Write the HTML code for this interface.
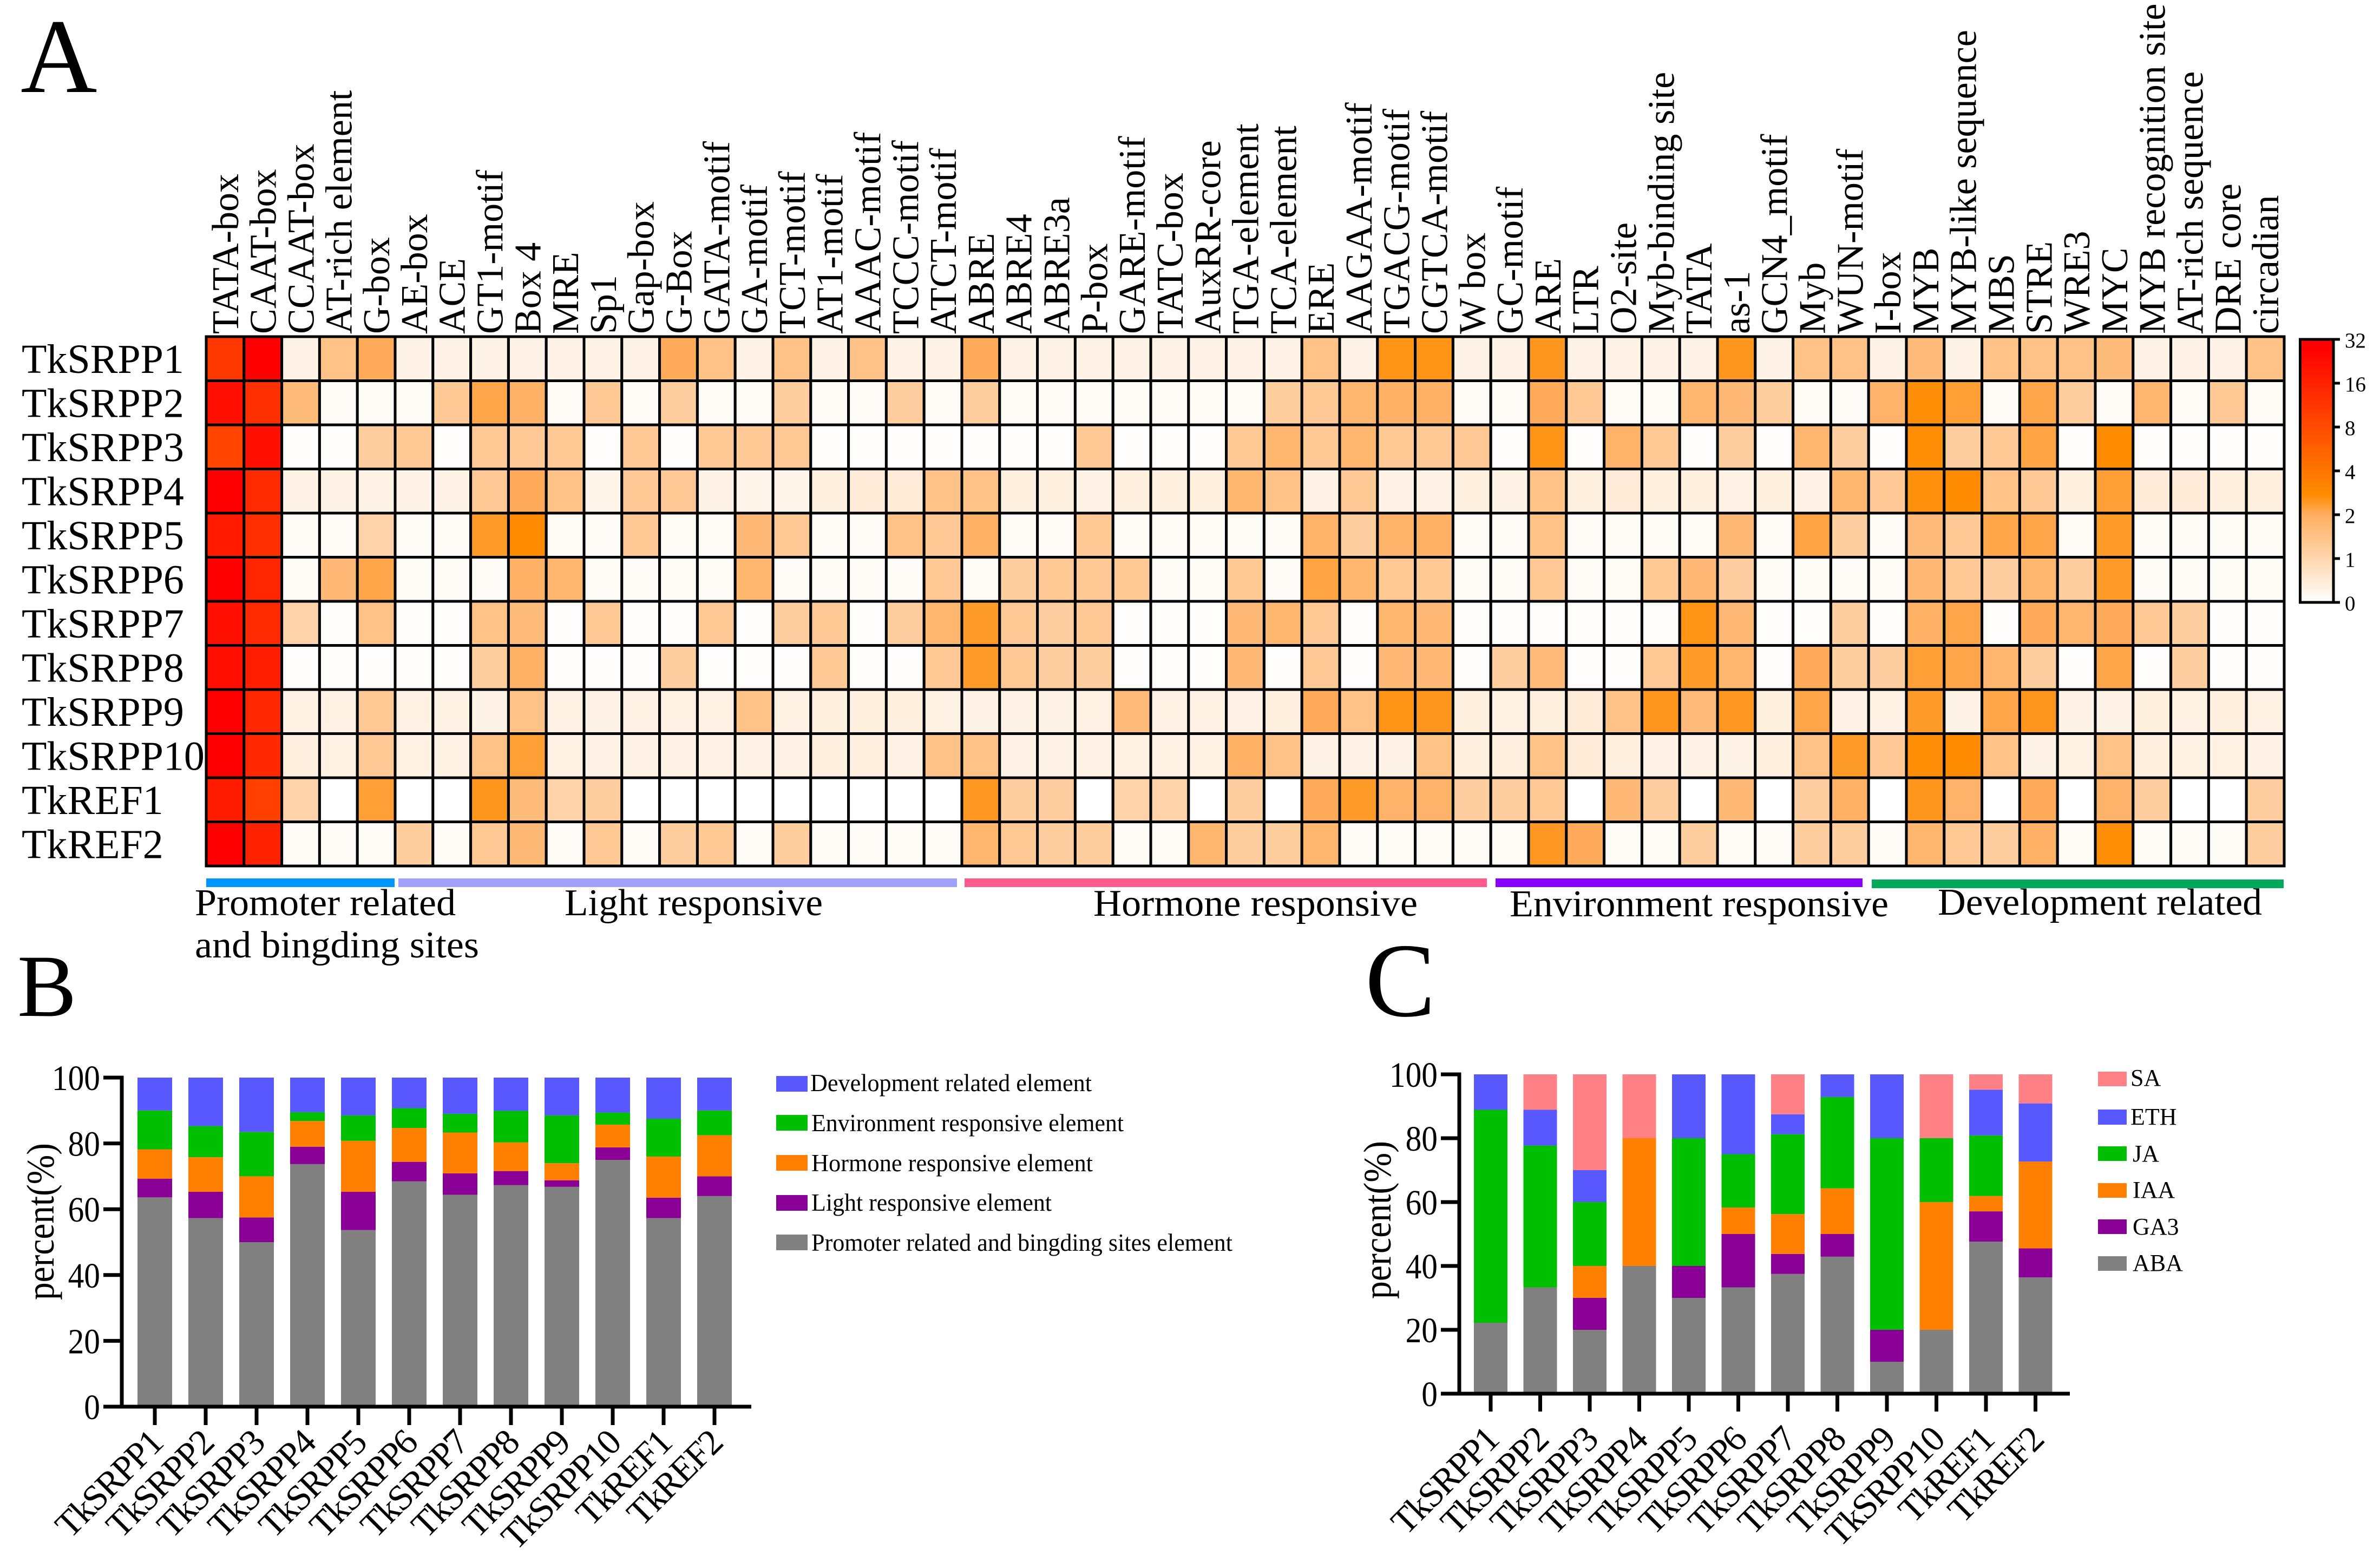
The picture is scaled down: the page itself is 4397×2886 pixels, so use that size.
<!DOCTYPE html>
<html lang="en">
<head>
<meta charset="utf-8">
<title>TkSRPP cis-element analysis</title>
<style>
html,body{margin:0;padding:0;background:#fff;}
svg{display:block;}
text{font-family:"Liberation Serif",serif;fill:#000;}
</style>
</head>
<body>
<svg id="figure" xmlns="http://www.w3.org/2000/svg" width="4397" height="2886" viewBox="0 0 4397 2886">
<rect x="0" y="0" width="4397" height="2886" fill="#fff"/>
<defs>
<linearGradient id="heat-grad" x1="0" y1="1" x2="0" y2="0">
<stop offset="0" stop-color="#ffffff"/>
<stop offset="0.1667" stop-color="#ffd6ae"/>
<stop offset="0.3333" stop-color="#ffae60"/>
<stop offset="0.41" stop-color="#ff8c00"/>
<stop offset="0.9667" stop-color="#ff0000"/>
<stop offset="1" stop-color="#ff0000"/>
</linearGradient>
</defs>

<text x="38" y="170" font-size="196">A</text>
<text x="32" y="1877" font-size="164">B</text>
<text x="2522" y="1877" font-size="195">C</text>

<g id="heatmap"></g>
<g id="colorbar">
<rect x="4249.5" y="627" width="61.5" height="486" fill="url(#heat-grad)" stroke="#000" stroke-width="5"/>
</g>

<g>
<rect x="381" y="1623" width="348" height="16" fill="#0096ff"/>
<rect x="736" y="1623" width="1032" height="16" fill="#a0a0ff"/>
<rect x="1782" y="1623" width="965" height="16" fill="#ff5a8c"/>
<rect x="2763" y="1623" width="678" height="16" fill="#8800ff"/>
<rect x="3458" y="1625" width="761" height="16" fill="#00aa5a"/>
<text x="360" y="1691" font-size="70" textLength="482" lengthAdjust="spacingAndGlyphs">Promoter related</text>
<text x="360" y="1769" font-size="70" textLength="525" lengthAdjust="spacingAndGlyphs">and bingding sites</text>
<text x="1043" y="1691" font-size="70" textLength="477" lengthAdjust="spacingAndGlyphs">Light responsive</text>
<text x="2020" y="1692" font-size="70" textLength="599" lengthAdjust="spacingAndGlyphs">Hormone responsive</text>
<text x="2789" y="1693" font-size="70" textLength="700" lengthAdjust="spacingAndGlyphs">Environment responsive</text>
<text x="3580" y="1690" font-size="70" textLength="599" lengthAdjust="spacingAndGlyphs">Development related</text>
</g>

<g id="chart-b">
<text transform="translate(99,2257) rotate(-90)" text-anchor="middle" font-size="72" textLength="290" lengthAdjust="spacingAndGlyphs">percent(%)</text>
</g>
<g>
<rect x="1434" y="1988" width="58" height="29" fill="#5858ff"/>
<rect x="1434" y="2060" width="58" height="29" fill="#00be00"/>
<rect x="1434" y="2134" width="58" height="29" fill="#ff8000"/>
<rect x="1434" y="2208" width="58" height="29" fill="#8a0096"/>
<rect x="1434" y="2281" width="58" height="29" fill="#808080"/>
<text x="1497" y="2016" font-size="45" textLength="520" lengthAdjust="spacingAndGlyphs">Development related element</text>
<text x="1499" y="2090" font-size="45" textLength="577" lengthAdjust="spacingAndGlyphs">Environment responsive element</text>
<text x="1499" y="2164" font-size="45" textLength="520" lengthAdjust="spacingAndGlyphs">Hormone responsive element</text>
<text x="1499" y="2237" font-size="45" textLength="444" lengthAdjust="spacingAndGlyphs">Light responsive element</text>
<text x="1499" y="2311" font-size="45" textLength="778" lengthAdjust="spacingAndGlyphs">Promoter related and bingding sites element</text>
</g>

<g id="chart-c">
<text transform="translate(2569,2254) rotate(-90)" text-anchor="middle" font-size="72" textLength="292" lengthAdjust="spacingAndGlyphs">percent(%)</text>
</g>
<g>
<rect x="3876" y="1980" width="53" height="27" fill="#ff8085"/>
<rect x="3876" y="2050" width="53" height="28" fill="#5858ff"/>
<rect x="3876" y="2118" width="53" height="27" fill="#00be00"/>
<rect x="3876" y="2186" width="53" height="27" fill="#ff8000"/>
<rect x="3876" y="2253" width="53" height="27" fill="#8a0096"/>
<rect x="3876" y="2321" width="53" height="27" fill="#808080"/>
<text x="3936" y="2006" font-size="44">SA</text>
<text x="3936" y="2078" font-size="44">ETH</text>
<text x="3940" y="2146" font-size="44">JA</text>
<text x="3940" y="2213" font-size="44">IAA</text>
<text x="3940" y="2281" font-size="44">GA3</text>
<text x="3940" y="2348" font-size="44">ABA</text>
</g>
</svg>

<script>
/* ---------- Panel A data ---------- */
const elementNames = ["TATA-box","CAAT-box","CCAAT-box","AT-rich element","G-box","AE-box","ACE","GT1-motif","Box 4","MRE","Sp1","Gap-box","G-Box","GATA-motif","GA-motif","TCT-motif","AT1-motif","AAAC-motif","TCCC-motif","ATCT-motif","ABRE","ABRE4","ABRE3a","P-box","GARE-motif","TATC-box","AuxRR-core","TGA-element","TCA-element","ERE","AAGAA-motif","TGACG-motif","CGTCA-motif","W box","GC-motif","ARE","LTR","O2-site","Myb-binding site","TATA","as-1","GCN4_motif","Myb","WUN-motif","I-box","MYB","MYB-like sequence","MBS","STRE","WRE3","MYC","MYB recognition site","AT-rich sequence","DRE core","circadian"];
const geneNames = ["TkSRPP1","TkSRPP2","TkSRPP3","TkSRPP4","TkSRPP5","TkSRPP6","TkSRPP7","TkSRPP8","TkSRPP9","TkSRPP10","TkREF1","TkREF2"];
const colorbarTicks = [0,1,2,4,8,16,32];
const heatSRPP1 = [11,32,.3,1.4,2.05,.3,.3,.3,.3,.3,.3,.3,2.05,1.4,.3,1.4,.3,1.4,.3,.3,2.05,.3,.3,.3,.3,.3,.3,.3,.3,1.4,.3,2.55,2.55,.3,.3,2.5,.3,.3,.3,.3,2.5,.3,1.4,1.4,.3,1.6,.3,1.4,1.4,1.4,1.6,.3,.3,.3,1.4];
const heatSRPP2 = [21.4,12.6,1.6,.1,.1,.1,1.25,2.15,1.9,.1,1.25,.1,1.15,.1,.1,1.15,.1,.1,1.15,.1,1.15,.1,.1,.1,.1,.1,.1,.1,1.15,1.25,1.75,1.9,1.9,.1,.1,2.05,1.25,.1,.1,1.75,1.65,1.15,.1,.1,1.85,2.7,2.3,.1,2.15,1.15,.1,1.75,.1,1.25,.1];
const heatSRPP3 = [9,21.4,.05,.05,1.15,1.25,.05,1.25,1.25,1.25,.05,1.25,.05,1.25,1.25,1.25,.05,.05,.05,.05,.05,.05,.05,1.25,.05,.05,.05,1.25,1.75,1.25,1.75,1.25,1.25,1.25,.05,2.55,.05,1.85,1.25,.05,1.15,.05,1.75,1.15,.05,2.7,1.15,1.25,2.2,.05,2.75,.05,.05,.05,.05];
const heatSRPP4 = [32,13.9,.3,.3,.3,.3,.3,1.25,2.05,1.4,.25,1.25,1.25,.3,.25,.25,.4,.5,.5,1.4,1.4,.4,.4,.3,.4,.4,.4,1.75,1.4,.3,1.25,.3,.3,.4,.3,1.4,.4,.5,.4,.4,.3,.4,.3,1.75,1.25,2.65,2.75,1.4,1.25,.4,2.3,.5,.5,.4,.4];
const heatSRPP5 = [18,12.6,.1,.1,1.05,.1,.1,2.4,2.75,.1,.1,1.25,.1,.1,1.65,1.25,.1,.1,1.4,1.25,1.9,.1,.1,1.25,.1,.1,.1,.1,.1,1.85,1.15,1.85,1.9,.1,.1,1.4,.1,.1,.1,.1,1.65,.1,2.2,1.15,.1,1.6,1.25,2.15,2.15,.1,2.4,.1,.1,.1,.1];
const heatSRPP6 = [32,14.8,.1,1.65,2.15,.1,.1,.1,1.9,1.75,.1,.1,.1,.1,1.75,.1,.1,.1,.1,1.25,.1,1.15,1.25,1.25,1.25,.1,.1,1.25,.1,2.2,1.75,1.25,1.25,.1,.1,1.25,.1,.1,1.25,1.65,1.15,.1,.1,.1,.1,1.65,1.25,1.15,1.75,1.15,2.4,.1,.1,.1,.1];
const heatSRPP7 = [21.4,13.9,1.05,.05,1.4,.05,.05,1.4,1.6,.05,1.25,.05,.05,1.25,.05,1.15,1.25,.05,1.15,1.75,2.4,1.25,1.15,1.25,.05,.05,.05,1.65,1.75,1.25,.05,1.75,1.65,.05,.05,.05,.05,.05,.05,2.55,1.65,.05,.05,1.15,.05,1.9,2.15,.05,2.05,1.75,2.05,1.25,1.15,.05,.05];
const heatSRPP8 = [22,16.9,.05,.05,.05,.05,.05,1.15,1.9,.05,.05,.05,1.15,.05,.05,.05,1.25,.05,.05,1.25,2.4,1.25,1.15,1.15,.05,.05,.05,1.65,.05,1.25,.05,1.65,1.65,.05,1.15,1.6,.05,.05,1.25,2.4,1.75,.05,2.05,1.15,1.15,2.3,2.15,1.75,1.15,.05,2.15,.05,1.15,.05,.05];
const heatSRPP9 = [32,14.4,.35,.35,1.25,.35,.35,.3,1.4,.35,.3,.35,.35,.35,1.4,.35,.4,.4,.4,.35,.3,.3,.3,.35,1.6,.35,.35,.3,.4,2.05,1.4,2.55,2.5,.4,.35,.4,.5,1.4,2.5,1.6,2.45,.4,2.15,.3,.35,2.4,.3,2.15,2.5,.3,.3,.4,.35,.4,.35];
const heatSRPP10 = [32,14.4,.4,.35,1.25,.35,.35,1.4,2.3,.35,.3,.3,.3,.3,.3,.3,.4,.4,.3,1.4,1.4,.3,.3,.3,.35,.35,.35,1.9,1.4,.3,.3,.3,1.4,.4,.4,1.4,.5,.4,.3,.3,.3,.4,1.4,2.4,1.25,2.7,2.75,1.4,.3,.35,1.4,.4,.35,.35,.3];
const heatREF1 = [17.5,9.6,1.05,0,2.3,0,0,2.5,1.6,1.05,1.15,0,0,0,0,0,0,0,0,0,2.45,1.15,1.15,0,1.05,1.05,0,1.15,0,2.05,2.4,1.85,1.85,1.15,1.15,1.25,0,1.65,1.15,0,1.65,0,1.15,1.9,0,2.5,1.85,0,2.05,0,1.85,1.15,0,0,1.15];
const heatREF2 = [32,15.9,.1,.1,.1,1.15,.1,1.25,1.65,.1,1.25,.1,1.15,1.25,.1,1.15,.1,.1,.1,.1,1.75,1.25,1.15,1.15,.1,.1,1.75,1.15,1.15,1.75,.1,.1,.1,.1,.1,2.45,2.05,.1,.1,1.15,.1,.1,1.15,1.15,.1,1.75,1.25,1.15,1.9,.1,2.7,.1,.1,.1,1.15];
const heatRows = [heatSRPP1,heatSRPP2,heatSRPP3,heatSRPP4,heatSRPP5,heatSRPP6,heatSRPP7,heatSRPP8,heatSRPP9,heatSRPP10,heatREF1,heatREF2];

/* ---------- Panel B data (segment heights, percent) ---------- */
const barLabels = ["TkSRPP1","TkSRPP2","TkSRPP3","TkSRPP4","TkSRPP5","TkSRPP6","TkSRPP7","TkSRPP8","TkSRPP9","TkSRPP10","TkREF1","TkREF2"];
const percentTicks = [0,20,40,60,80,100];
const promoterShare = [63.6,57.3,50,73.7,53.7,68.5,64.4,67.3,66.8,75,57.3,64];
const lightShare = [5.7,8,7.5,5.3,11.6,5.9,6.5,4.3,2,3.8,6.2,6];
const hormoneShare = [8.9,10.5,12.5,7.8,15.5,10.3,12.4,8.7,5.2,6.9,12.5,12.5];
const environmentShare = [11.8,9.5,13.5,2.7,7.7,6,5.7,9.6,14.5,3.7,11.5,7.5];
const developmentShare = [10,14.7,16.5,10.5,11.5,9.3,11,10.1,11.5,10.6,12.5,10];

/* ---------- Panel C data (segment heights, percent) ---------- */
const abaShare = [22.2,33.3,20,40,30,33.3,37.5,42.9,10,20,47.6,36.4];
const ga3Share = [0,0,10,0,10,16.7,6.25,7.1,10,0,9.5,9.1];
const iaaShare = [0,0,10,40,0,8.3,12.5,14.3,0,40,4.8,27.2];
const jaShare = [66.7,44.4,20,0,40,16.7,25,28.6,60,20,19,0];
const ethShare = [11.1,11.2,10,0,20,25,6.25,7.1,20,0,14.3,18.2];
const saShare = [0,11.1,30,20,0,0,12.5,0,0,20,4.8,9.1];

const SVG_NS = "http://www.w3.org/2000/svg";
function make(tag, parent, attrs, txt) {
  const node = document.createElementNS(SVG_NS, tag);
  for (const k in attrs) node.setAttribute(k, attrs[k]);
  if (txt !== undefined) node.textContent = txt;
  parent.appendChild(node);
  return node;
}

/* colour axis: 0,1,2,4,8,16,32 equally spaced */
function heatPos(v) { return v <= 1 ? v : 1 + Math.log2(v); }
const heatStopPos = [0,1,2,2.46,5.8,6];
const heatStopRGB = [[255,255,255],[255,214,174],[255,174,96],[255,140,0],[255,0,0],[255,0,0]];
function heatColor(v) {
  const p = Math.max(0, Math.min(6, heatPos(v)));
  let i = 0;
  while (i < heatStopPos.length - 2 && p > heatStopPos[i + 1]) i++;
  const t = (p - heatStopPos[i]) / (heatStopPos[i + 1] - heatStopPos[i]);
  const c = heatStopRGB[i].map((a, j) => Math.round(a + (heatStopRGB[i + 1][j] - a) * t));
  return "rgb(" + c.join(",") + ")";
}

/* ---------- Heatmap ---------- */
const hmLeft = 381, hmTop = 622, cellW = 69.8, cellH = 81.5;
function hmX(c) { return hmLeft + c * cellW; }
function hmY(r) { return hmTop + r * cellH; }
const hm = document.getElementById("heatmap");

heatRows.forEach((row, r) => {
  row.forEach((v, c) => {
    const cell = make("rect", hm, {x: hmX(c), y: hmY(r), width: cellW, height: cellH, fill: heatColor(v), stroke: "#000", "stroke-width": 5});
    
    
  });
});
elementNames.forEach((name, c) => {
  const bx = hmX(c) + cellW / 2 + 24;
  const lab = make("text", hm, {transform: "translate(" + bx + ",617) rotate(-90)", "font-size": 70}, name);
  
  
});
geneNames.forEach((name, r) => {
  const lab = make("text", hm, {x: 40, y: hmY(r) + 67, "font-size": 76}, name);
  
  
});

/* ---------- Colour bar ticks ---------- */
const cb = document.getElementById("colorbar");
function cbY(v) { return 1113 - heatPos(v) * (1113 - 627) / 6; }
colorbarTicks.forEach((v) => {
  const tick = make("line", cb, {x1: 4311, x2: 4323, y1: cbY(v), y2: cbY(v), stroke: "#000", "stroke-width": 5});
  
  
  const lab = make("text", cb, {x: 4332, y: cbY(v) + 15, "font-size": 39}, String(v));
  
  
});

/* ---------- Stacked bars ---------- */
function stackedChart(parent, cfg) {
  function yScale(p) { return cfg.y0 - p * (cfg.y0 - cfg.y100) / 100; }
  function xScale(i) { return cfg.x0 + i * cfg.dx; }
  barLabels.forEach((label, i) => {
    let cum = 0;
    cfg.series.forEach((s) => {
      const v = s.values[i];
      if (v > 0) {
        const seg = make("rect", parent, {x: xScale(i) - cfg.barW / 2, y: yScale(cum + v), width: cfg.barW, height: yScale(cum) - yScale(cum + v), fill: s.color});
        
        
      }
      cum += v;
    });
    const tick = make("line", parent, {x1: xScale(i), x2: xScale(i), y1: cfg.y0, y2: cfg.tickEnd, stroke: "#000", "stroke-width": 7});
    
    
    const tx = xScale(i) + 18;
    const ty = cfg.labelY;
    const lab = make("text", parent, {transform: "translate(" + tx + "," + ty + ") rotate(-45)", "text-anchor": "end", "font-size": 67, "letter-spacing": -2.5}, label);
    
    
  });
  percentTicks.forEach((p) => {
    const tick = make("line", parent, {x1: cfg.axisX - 34, x2: cfg.axisX, y1: yScale(p), y2: yScale(p), stroke: "#000", "stroke-width": 7});
    
    
    const txt = String(p);
    const lab = make("text", parent, {x: cfg.axisX - 40, y: yScale(p) + 23, "text-anchor": "end", "font-size": 66, textLength: 29.7 * txt.length, lengthAdjust: "spacingAndGlyphs"}, txt);
    
    
  });
  const yAxis = make("line", parent, {x1: cfg.axisX, x2: cfg.axisX, y1: yScale(100) - 3.5, y2: cfg.y0 + 3.5, stroke: "#000", "stroke-width": 7});
  
  
  const xAxis = make("line", parent, {x1: cfg.axisX, x2: cfg.axisEnd, y1: cfg.y0, y2: cfg.y0, stroke: "#000", "stroke-width": 7});
  
  
}

stackedChart(document.getElementById("chart-b"), {
  x0: 286, dx: 94, barW: 64, y0: 2599, y100: 1991, axisX: 225, axisEnd: 1388, tickEnd: 2633, labelY: 2670,
  series: [
    {key: "promoter", color: "#808080", values: promoterShare},
    {key: "light", color: "#8a0096", values: lightShare},
    {key: "hormone", color: "#ff8000", values: hormoneShare},
    {key: "environment", color: "#00be00", values: environmentShare},
    {key: "development", color: "#5858ff", values: developmentShare}
  ]
});
stackedChart(document.getElementById("chart-c"), {
  x0: 2754, dx: 91.5, barW: 62, y0: 2575, y100: 1985, axisX: 2696, axisEnd: 3824, tickEnd: 2608, labelY: 2664,
  series: [
    {key: "aba", color: "#808080", values: abaShare},
    {key: "ga3", color: "#8a0096", values: ga3Share},
    {key: "iaa", color: "#ff8000", values: iaaShare},
    {key: "ja", color: "#00be00", values: jaShare},
    {key: "eth", color: "#5858ff", values: ethShare},
    {key: "sa", color: "#ff8085", values: saShare}
  ]
});
</script>
</body>
</html>
